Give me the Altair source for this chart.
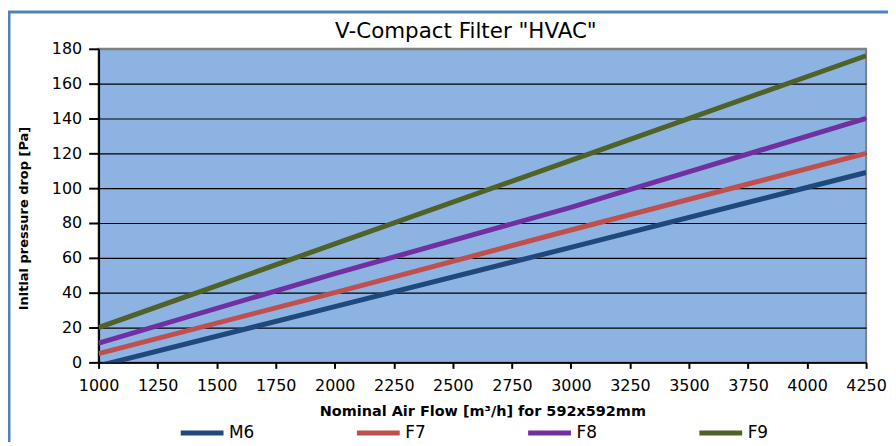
import altair as alt
import pandas as pd

airflow = [1000, 2000, 3000, 4250]
m6 = [-2, 32, 66, 109]
f7 = [5, 40, 76, 120]
f8 = [11, 51, 89, 140]
f9 = [20, 68, 116, 176]
series_names = ["M6", "F7", "F8", "F9"]
series_colors = ["#1F497D", "#C0504D", "#7030A0", "#4F6228"]
x_ticks = [1000, 1250, 1500, 1750, 2000, 2250, 2500, 2750, 3000, 3250, 3500, 3750, 4000, 4250]
y_ticks = [0, 20, 40, 60, 80, 100, 120, 140, 160, 180]
chart_title = 'V-Compact Filter "HVAC"'

rows = []
for name, vals in zip(series_names, [m6, f7, f8, f9]):
    for x, v in zip(airflow, vals):
        rows.append({"flow": x, "drop": v, "Filter": name})
df = pd.DataFrame(rows)

FONT = "DejaVu Sans"

lines = alt.Chart(df).mark_line(strokeWidth=5, clip=True).encode(
    x=alt.X("flow:Q",
            scale=alt.Scale(domain=[1000, 4250], nice=False, zero=False),
            axis=alt.Axis(values=x_ticks, format="d", labelOverlap=False, labelFlush=False,
                          title="Nominal Air Flow [m³/h] for 592x592mm",
                          grid=False, domainColor="black", domainWidth=2,
                          tickColor="black", tickWidth=2, tickSize=6,
                          labelFont=FONT, labelFontSize=16, labelColor="black", labelPadding=9,
                          titleFont=FONT, titleFontSize=14.5, titleFontWeight="bold",
                          titleColor="black", titlePadding=11)),
    y=alt.Y("drop:Q",
            scale=alt.Scale(domain=[0, 180], nice=False),
            axis=alt.Axis(values=y_ticks, format="d", labelOverlap=False,
                          title="Initial pressure drop [Pa]",
                          grid=True,
                          gridColor=alt.condition(alt.datum.value == 180, alt.value("#808080"), alt.value("black")),
                          gridWidth=alt.condition(alt.datum.value == 180, alt.value(2), alt.value(1.2)),
                          domainColor="black", domainWidth=2,
                          tickColor="black", tickWidth=2, tickSize=10,
                          labelFont=FONT, labelFontSize=16, labelColor="black", labelPadding=7,
                          titleFont=FONT, titleFontSize=13, titleFontWeight="bold",
                          titleColor="black", titlePadding=21, titleY=170)),
    color=alt.Color("Filter:N",
                    scale=alt.Scale(domain=series_names, range=series_colors),
                    legend=alt.Legend(orient="none", legendX=80, legendY=362, direction="horizontal",
                                      title=None, symbolType="stroke", symbolStrokeWidth=5,
                                      symbolSize=1849, labelFont=FONT, labelFontSize=17,
                                      labelColor="black", labelOffset=3, columnPadding=92,
                                      columns=4, padding=0)),
    order=alt.Order("flow:Q"),
)

one = pd.DataFrame({"a": [0]})
frame_left = alt.Chart(one).mark_rule(color="#4F81BD", strokeWidth=3).encode(
    x=alt.value(-90), y=alt.value(-37), y2=alt.value(400))
frame_top = alt.Chart(one).mark_rule(color="#4F81BD", strokeWidth=3).encode(
    x=alt.value(-91), x2=alt.value(800), y=alt.value(-37))
title_text = alt.Chart(one).mark_text(font=FONT, fontSize=21.5, color="black", align="center",
                                      baseline="alphabetic").encode(
    x=alt.value(369), y=alt.value(-11), text=alt.value(chart_title))

chart = alt.layer(frame_left, frame_top, title_text, lines).properties(
    width=771, height=315,
    autosize=alt.AutoSizeParams(type="none"),
    padding={"left": 91, "top": 40, "right": 22, "bottom": 79},
    background="white",
).configure_view(fill="#8DB3E2", stroke="#808080", strokeWidth=2)

chart.save("out.html", embed_options={"renderer": "svg", "actions": False})
